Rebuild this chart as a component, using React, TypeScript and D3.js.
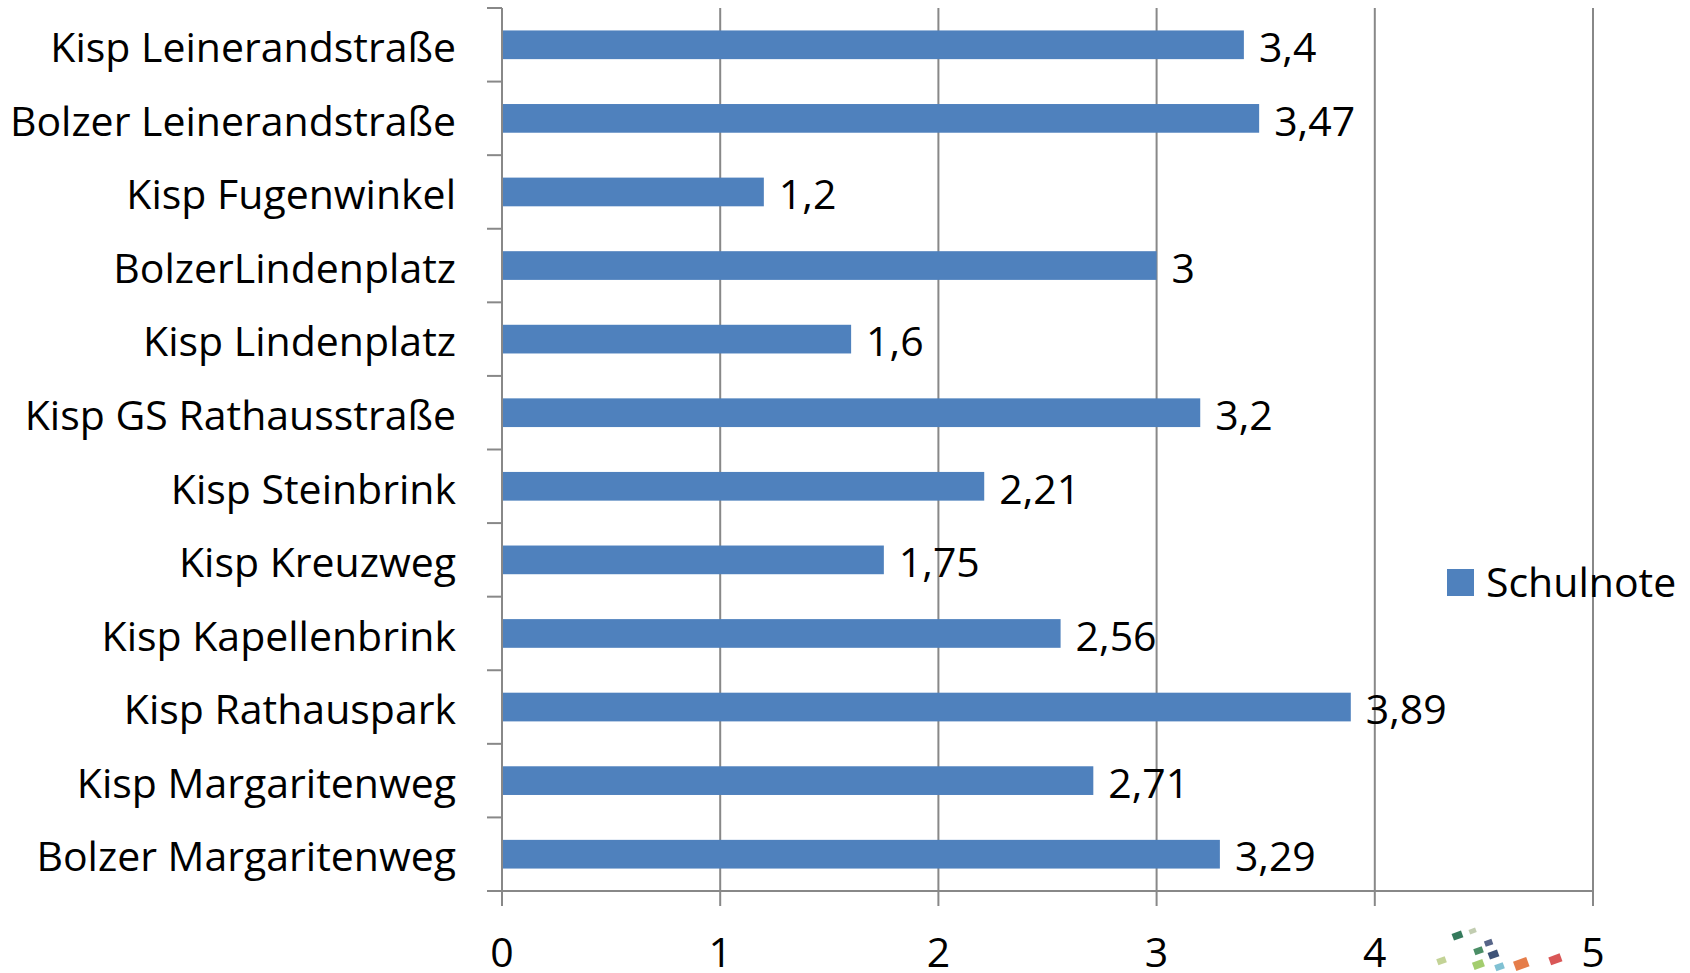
import React, { useEffect, useRef } from 'react';
import * as d3 from 'd3';

const categories = [
  'Kisp Leinerandstraße',
  'Bolzer Leinerandstraße',
  'Kisp Fugenwinkel',
  'BolzerLindenplatz',
  'Kisp Lindenplatz',
  'Kisp GS Rathausstraße',
  'Kisp Steinbrink',
  'Kisp Kreuzweg',
  'Kisp Kapellenbrink',
  'Kisp Rathauspark',
  'Kisp Margaritenweg',
  'Bolzer Margaritenweg',
];
const values = [3.4, 3.47, 1.2, 3, 1.6, 3.2, 2.21, 1.75, 2.56, 3.89, 2.71, 3.29];
const xTicks = [0, 1, 2, 3, 4, 5];
const seriesName = 'Schulnote';

// decorative logo squares in the lower right corner
const logoBits = [
  { x: 1458, y: 937, s: 10, c: '#1f6b4a', o: 0.9 },
  { x: 1473, y: 932, s: 7, c: '#a8b890', o: 0.7 },
  { x: 1489, y: 944, s: 8, c: '#2d3f6a', o: 0.8 },
  { x: 1479, y: 952, s: 9, c: '#2b7a4b', o: 0.85 },
  { x: 1494, y: 956, s: 10, c: '#1c3560', o: 0.85 },
  { x: 1442, y: 962, s: 9, c: '#a9c06a', o: 0.7 },
  { x: 1479, y: 966, s: 11, c: '#8cc04a', o: 0.8 },
  { x: 1500, y: 968, s: 9, c: '#4aa7c0', o: 0.7 },
  { x: 1522, y: 966, s: 14, c: '#e0662a', o: 0.85 },
  { x: 1556, y: 961, s: 12, c: '#d23a3a', o: 0.85 },
];

const width = 1690;
const height = 973;
const font = '"Open Sans", sans-serif';
const fontSize = 41;

const App: React.FC = () => {
  const svgRef = useRef<SVGSVGElement>(null);

  useEffect(() => {
    if (!svgRef.current) return;
    const svg = d3.select(svgRef.current);
    svg.selectAll('*').remove();

    const left = 502;
    const top = 8;
    const bottom = 891;

    const x = d3.scaleLinear().domain([0, 5]).range([left, 1593]);
    const y = d3.scaleBand<string>().domain(categories).range([top, bottom]).paddingInner(0.61).paddingOuter(0.305);
    const bands = d3.scaleBand<string>().domain(categories).range([top, bottom]);

    const grid = '#888888';

    // vertical gridlines + ticks below axis
    svg.append('g')
      .selectAll('line')
      .data(xTicks)
      .join('line')
      .attr('x1', d => x(d))
      .attr('x2', d => x(d))
      .attr('y1', top)
      .attr('y2', bottom + 15)
      .attr('stroke', grid)
      .attr('stroke-width', 2);

    // category ticks on the y axis
    const boundaries = categories.map(c => bands(c)!).concat([bottom]);
    svg.append('g')
      .selectAll('line')
      .data(boundaries)
      .join('line')
      .attr('x1', left - 15)
      .attr('x2', left)
      .attr('y1', d => d)
      .attr('y2', d => d)
      .attr('stroke', grid)
      .attr('stroke-width', 2);

    // x axis line
    svg.append('line')
      .attr('x1', left - 15)
      .attr('x2', x(5))
      .attr('y1', bottom)
      .attr('y2', bottom)
      .attr('stroke', grid)
      .attr('stroke-width', 2);

    // bars
    svg.append('g')
      .selectAll('rect')
      .data(values)
      .join('rect')
      .attr('x', x(0))
      .attr('y', (_, i) => y(categories[i])!)
      .attr('width', d => x(d) - x(0))
      .attr('height', y.bandwidth())
      .attr('fill', '#4F81BD');

    // y axis line drawn over bars
    svg.append('line')
      .attr('x1', left)
      .attr('x2', left)
      .attr('y1', top)
      .attr('y2', bottom + 15)
      .attr('stroke', grid)
      .attr('stroke-width', 2);

    // value labels
    svg.append('g')
      .selectAll('text')
      .data(values)
      .join('text')
      .attr('x', d => x(d) + 15)
      .attr('y', (_, i) => y(categories[i])! + y.bandwidth() / 2)
      .attr('dy', '0.42em')
      .attr('font-family', font)
      .attr('font-size', fontSize)
      .attr('fill', '#000')
      .text(d => String(d).replace('.', ','));

    // category labels
    svg.append('g')
      .selectAll('text')
      .data(categories)
      .join('text')
      .attr('x', 456)
      .attr('y', d => bands(d)! + bands.bandwidth() / 2)
      .attr('dy', '0.42em')
      .attr('text-anchor', 'end')
      .attr('font-family', font)
      .attr('font-size', fontSize)
      .attr('fill', '#000')
      .text(d => d);

    // logo decoration
    svg.append('g')
      .selectAll('rect')
      .data(logoBits)
      .join('rect')
      .attr('x', d => d.x - d.s / 2)
      .attr('y', d => d.y - d.s / 2)
      .attr('width', d => d.s)
      .attr('height', d => d.s * 0.7)
      .attr('transform', d => `rotate(-20 ${d.x} ${d.y})`)
      .attr('fill', d => d.c)
      .attr('opacity', d => d.o);

    // x tick labels
    svg.append('g')
      .selectAll('text')
      .data(xTicks)
      .join('text')
      .attr('x', d => x(d))
      .attr('y', 967)
      .attr('text-anchor', 'middle')
      .attr('font-family', font)
      .attr('font-size', fontSize)
      .attr('fill', '#000')
      .text(d => String(d));

    // legend
    const legend = svg.append('g');
    legend.append('rect')
      .attr('x', 1447)
      .attr('y', 569)
      .attr('width', 27)
      .attr('height', 27)
      .attr('fill', '#4F81BD');
    legend.append('text')
      .attr('x', 1486)
      .attr('y', 597)
      .attr('font-family', font)
      .attr('font-size', fontSize)
      .attr('fill', '#000')
      .text(seriesName);
  }, []);

  return (
    <svg
      ref={svgRef}
      width={width}
      height={height}
      style={{ position: 'absolute', left: 0, top: 0, background: '#fff' }}
    />
  );
};

export default App;
